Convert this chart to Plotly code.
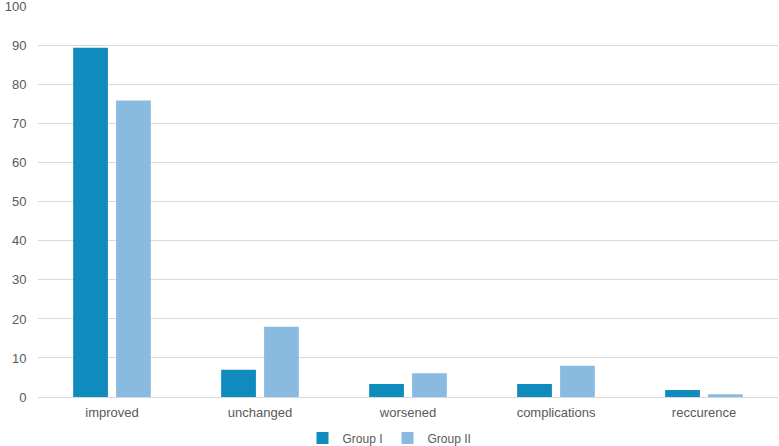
import plotly.graph_objects as go

categories = ["improved", "unchanged", "worsened", "complications", "reccurence"]
group1 = [89.5, 7, 3.3, 3.3, 1.8]
group2 = [76, 18, 6.1, 8, 0.7]
series_names = ["Group I", "Group II"]
colors = ["#0F8BBD", "#89BBE0"]

fig = go.Figure()
for name, vals, c in zip(series_names, [group1, group2], colors):
    fig.add_trace(go.Bar(x=categories, y=vals, name=name, marker=dict(color=c, line=dict(width=0))))

fig.update_layout(
    width=779, height=446,
    margin=dict(l=38, r=1, t=6, b=49, autoexpand=False),
    paper_bgcolor="white", plot_bgcolor="white",
    barmode="group", bargap=0.42, bargroupgap=0.19,
    font=dict(family="Liberation Sans, Arial, sans-serif", size=13, color="#595959"),
    xaxis=dict(showgrid=False, showline=False, ticks="outside", ticklen=3, tickcolor="rgba(0,0,0,0)",
               tickfont=dict(size=13, color="#595959"), automargin=False),
    yaxis=dict(range=[0, 100.2], tickvals=list(range(0, 101, 10)), showgrid=True, gridcolor="#D9D9D9", gridwidth=1,
               zeroline=True, zerolinecolor="#D9D9D9", zerolinewidth=1, showline=False,
               ticks="outside", ticklen=8, tickcolor="rgba(0,0,0,0)", ticklabeloverflow="allow",
               tickfont=dict(size=13, color="#595959"), automargin=False),
    legend=dict(orientation="h", x=0.5, xanchor="center", xref="container",
                y=0.018, yanchor="middle", yref="container",
                font=dict(size=12, color="#595959"), traceorder="normal",
                itemwidth=30),
    showlegend=True,
)
fig.write_html("out.html")
